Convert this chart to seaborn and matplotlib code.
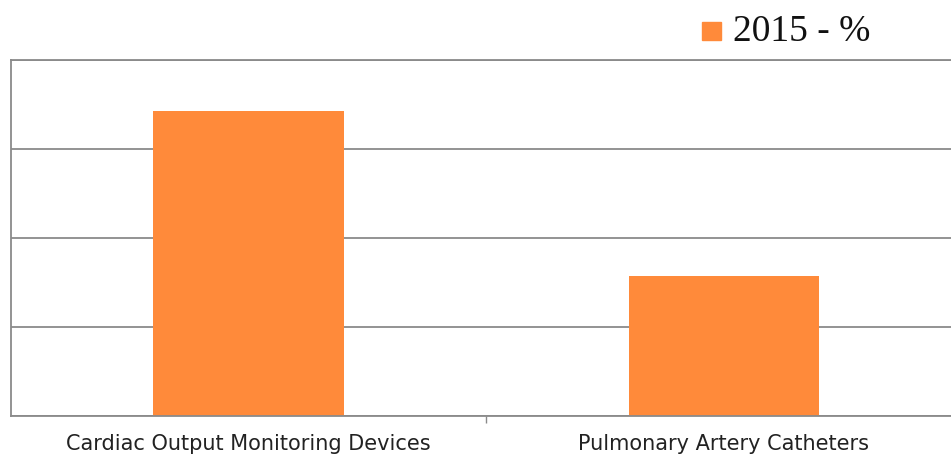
import pandas as pd
import matplotlib.pyplot as plt
import seaborn as sns

# values (y scale 0-80, grid every 20)
categories = ['Cardiac Output Monitoring Devices', 'Pulmonary Artery Catheters']
share_2015 = [68.5, 31.5]
series = '2015 - %'

data = pd.DataFrame({'category': categories, 'value': share_2015, 'series': series})

sns.set_style('white')
plt.rcParams['font.family'] = ['DejaVu Sans']
fig = plt.figure(figsize=(9.51, 4.54), dpi=100)
# the plot area runs past the right edge of the image in the original
ax = fig.add_axes([11 / 951, 1 - 416 / 454, 950 / 951, 356 / 454])

sns.barplot(data=data, x='category', y='value', hue='series',
            palette=['#FF8A3A'], width=0.4, saturation=1, ax=ax, legend=False,
            linewidth=0, edgecolor='none')

ax.set_ylim(0, 80)
ax.set_yticks([0, 20, 40, 60, 80])
ax.set_yticklabels([])
ax.tick_params(axis='y', length=0)
ax.yaxis.grid(True, color='#8a8a8a', linewidth=1.3)
ax.set_axisbelow(True)

# tick marks sit between the categories
ax.set_xticks([0.5], minor=True)
ax.tick_params(axis='x', which='major', length=0, pad=13, labelsize=15, labelcolor='#222222')
ax.tick_params(axis='x', which='minor', bottom=True, length=5, width=1, color='#8a8a8a', direction='out')
ax.set_xlabel('')
ax.set_ylabel('')

for side in ['left', 'top', 'bottom']:
    ax.spines[side].set_color('#8a8a8a')
    ax.spines[side].set_linewidth(1.3)
ax.spines['right'].set_visible(False)

# legend in the top right corner
fig.patches.append(plt.Rectangle((702 / 951, 1 - 40 / 454), 19 / 951, 18 / 454,
                                 transform=fig.transFigure, color='#FF8A3A'))
fig.text(733 / 951, 1 - 41 / 454, series, fontsize=27, family='Liberation Serif',
         color='#111111', va='baseline', ha='left')

fig.savefig('out.png', dpi=100)
